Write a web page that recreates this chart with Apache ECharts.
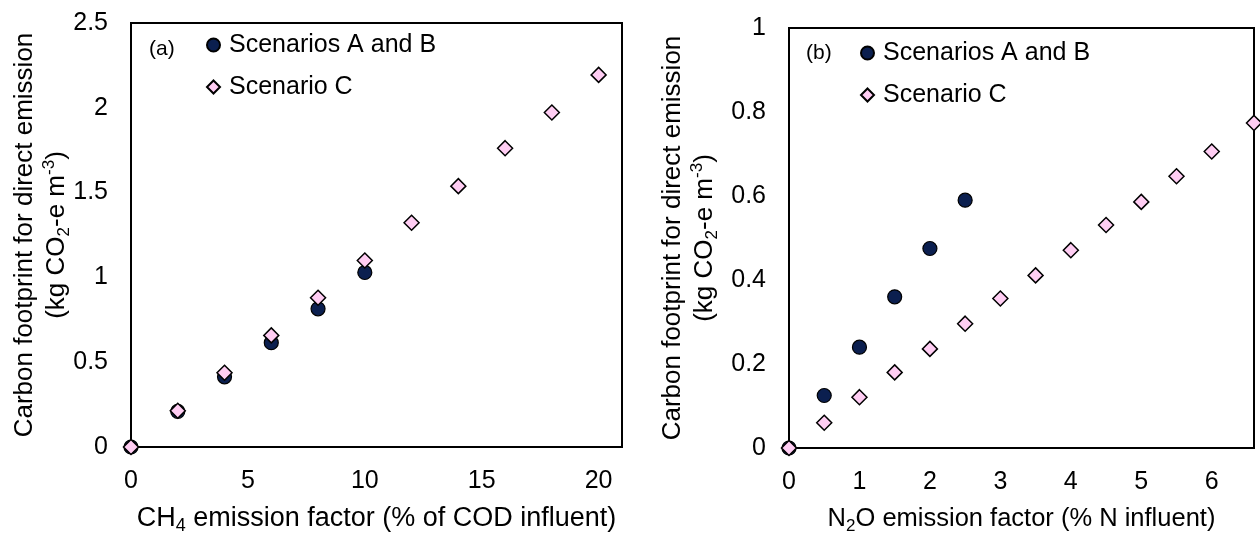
<!DOCTYPE html>
<html>
<head>
<meta charset="utf-8">
<script src="https://cdn.jsdelivr.net/npm/echarts@6/dist/echarts.min.js"></script>
<style>html,body{margin:0;padding:0;background:#fff;}#c{width:1260px;height:540px;}</style>
</head>
<body>
<div id="c"></div>
<script>
// Panel (a): CH4
const ch4AB_x = [0, 2, 4, 6, 8, 10];
const ch4AB_y = [0, 0.21, 0.414, 0.615, 0.815, 1.029];
const ch4C_x = [0, 2, 4, 6, 8, 10, 12, 14, 16, 18, 20];
const ch4C_y = [0, 0.214, 0.438, 0.658, 0.880, 1.100, 1.322, 1.538, 1.762, 1.972, 2.194];
// Panel (b): N2O
const n2oAB_x = [0, 0.5, 1, 1.5, 2, 2.5];
const n2oAB_y = [0, 0.125, 0.240, 0.360, 0.475, 0.590];
const n2oC_x = [0, 0.5, 1, 1.5, 2, 2.5, 3, 3.5, 4, 4.5, 5, 5.5, 6, 6.6];
const n2oC_y = [0, 0.060, 0.121, 0.180, 0.236, 0.296, 0.356, 0.411, 0.471, 0.531, 0.586, 0.647, 0.706, 0.774];
const seriesNames = ['Scenarios A and B', 'Scenario C'];
const panelLabels = ['(a)', '(b)'];

const FONT = '"Liberation Sans", Arial, sans-serif';
const zip = (xs, ys) => xs.map((x, i) => [x, ys[i]]);
const circleStyle = {color: '#0b1f4f', borderColor: '#000', borderWidth: 1.2, opacity: 1};
const diamondStyle = {color: '#ffcdf3', borderColor: '#000', borderWidth: 1.5, opacity: 1};
const makeRich = (fs) => ({
  a: {fontSize: fs, lineHeight: 32, fontFamily: FONT, color: '#000'},
  sub: {fontSize: Math.round(fs * 0.66), lineHeight: 16, verticalAlign: 'bottom', fontFamily: FONT, color: '#000'},
  sup: {fontSize: Math.round(fs * 0.66), lineHeight: 16, verticalAlign: 'top', fontFamily: FONT, color: '#000'}
});
const yName = '{a|Carbon footprint for direct emission}\n{a|(kg CO}{sub|2}{a|-e m}{sup|-3}{a|)}';
const axisLineStyle = {show: true, lineStyle: {color: '#000', width: 2}};
const tickLabel = (margin) => ({fontSize: 25, fontFamily: FONT, color: '#000', margin: margin, showMaxLabel: false});
const legendText = {fontSize: 25, lineHeight: 26, fontFamily: FONT, color: '#000', padding: [0, 0, 0, 4]};
const titleText = {fontSize: 21, fontWeight: 'normal', fontFamily: FONT, color: '#000'};

const chart = echarts.init(document.getElementById('c'), null, {renderer: 'canvas'});
chart.setOption({
  animation: false,
  backgroundColor: '#fff',
  title: [
    {text: panelLabels[0], left: 149, top: 39, padding: 0, textStyle: titleText},
    {text: panelLabels[1], left: 806, top: 43, padding: 0, textStyle: titleText}
  ],
  legend: [
    {data: seriesNames, orient: 'vertical', left: 206, top: 32, padding: 0, itemWidth: 13, itemHeight: 13, itemGap: 16,
     textStyle: legendText},
    {data: seriesNames, orient: 'vertical', left: 860, top: 40, padding: 0, itemWidth: 13, itemHeight: 13, itemGap: 16,
     textStyle: legendText}
  ],
  grid: [
    {left: 131, top: 23, width: 491, height: 424, show: true, borderColor: '#000', borderWidth: 2, backgroundColor: 'transparent'},
    {left: 789, top: 28, width: 465, height: 426, show: true, borderColor: '#000', borderWidth: 2, backgroundColor: 'transparent'}
  ],
  xAxis: [
    {gridIndex: 0, type: 'value', min: 0, max: 21, interval: 5,
     axisLine: axisLineStyle, axisTick: {show: false}, splitLine: {show: false},
     axisLabel: tickLabel(22),
     name: '{a|CH}{sub|4}{a| emission factor (% of COD influent)}', nameLocation: 'middle', nameGap: 56, nameMoveOverlap: false,
     nameTextStyle: {rich: makeRich(27)}},
    {gridIndex: 1, type: 'value', min: 0, max: 6.6, interval: 1,
     axisLine: axisLineStyle, axisTick: {show: false}, splitLine: {show: false},
     axisLabel: tickLabel(22),
     name: '{a|N}{sub|2}{a|O emission factor (% N influent)}', nameLocation: 'middle', nameGap: 55, nameMoveOverlap: false,
     nameTextStyle: {rich: makeRich(25.5)}}
  ],
  yAxis: [
    {gridIndex: 0, type: 'value', min: 0, max: 2.5, interval: 0.5,
     axisLine: axisLineStyle, axisTick: {show: false}, splitLine: {show: false},
     axisLabel: Object.assign(tickLabel(23), {showMaxLabel: true}),
     name: yName, nameLocation: 'middle', nameGap: 58, nameRotate: 90, nameMoveOverlap: false,
     nameTextStyle: {rich: makeRich(26)}},
    {gridIndex: 1, type: 'value', min: 0, max: 1, interval: 0.2,
     axisLine: axisLineStyle, axisTick: {show: false}, splitLine: {show: false},
     axisLabel: Object.assign(tickLabel(23), {showMaxLabel: true}),
     name: yName, nameLocation: 'middle', nameGap: 68, nameRotate: 90, nameMoveOverlap: false,
     nameTextStyle: {rich: makeRich(26)}}
  ],
  series: [
    {name: seriesNames[0], type: 'scatter', xAxisIndex: 0, yAxisIndex: 0, symbol: 'circle', symbolSize: 14,
     itemStyle: circleStyle, data: zip(ch4AB_x, ch4AB_y), clip: false, z: 2},
    {name: seriesNames[1], type: 'scatter', xAxisIndex: 0, yAxisIndex: 0, symbol: 'diamond', symbolSize: 15,
     itemStyle: diamondStyle, data: zip(ch4C_x, ch4C_y), clip: false, z: 3},
    {name: seriesNames[0], type: 'scatter', xAxisIndex: 1, yAxisIndex: 1, symbol: 'circle', symbolSize: 14,
     itemStyle: circleStyle, data: zip(n2oAB_x, n2oAB_y), clip: false, z: 2},
    {name: seriesNames[1], type: 'scatter', xAxisIndex: 1, yAxisIndex: 1, symbol: 'diamond', symbolSize: 15,
     itemStyle: diamondStyle, data: zip(n2oC_x, n2oC_y), clip: false, z: 3}
  ]
});
</script>
</body>
</html>
